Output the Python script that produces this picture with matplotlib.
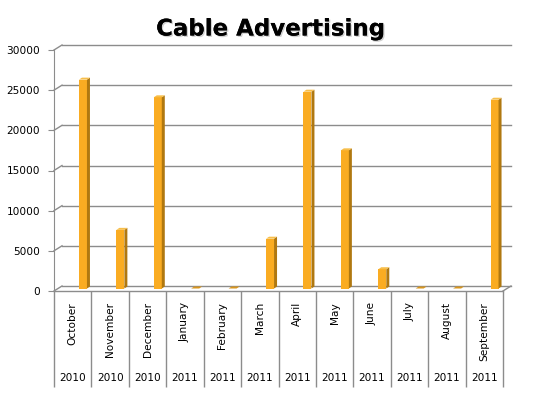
import matplotlib
matplotlib.use("Agg")
import matplotlib.pyplot as plt
import matplotlib.transforms as mtransforms
import matplotlib.patheffects as pe
from matplotlib.patches import Polygon

# ---- data ----
months = ["October", "November", "December", "January", "February", "March",
          "April", "May", "June", "July", "August", "September"]
years = ["2010", "2010", "2010", "2011", "2011", "2011",
         "2011", "2011", "2011", "2011", "2011", "2011"]
spend = [26000, 7300, 23800, 0, 0, 6200, 24500, 17200, 2400, 0, 0, 23500]
yticks = [0, 5000, 10000, 15000, 20000, 25000, 30000]

# ---- figure / axes (front plane of the fake 3D box) ----
W, H = 533, 394
fig = plt.figure(figsize=(W / 100, H / 100), dpi=100)
left_px, right_px, top_px, base_px = 54, 503, 50, 291
ax = fig.add_axes([left_px / W, 1 - base_px / H,
                   (right_px - left_px) / W, (base_px - top_px) / H])
n = len(months)
ymax = 30000
ax.set_xlim(0, n)
ax.set_ylim(0, ymax)
ax.set_facecolor("none")
for s in ["top", "right", "bottom"]:
    ax.spines[s].set_visible(False)
ax.spines["left"].set_color("#8c8c8c")

grid_c = "#8c8c8c"
# pixel -> data conversions
px_x = n / (right_px - left_px)
px_y = ymax / (base_px - top_px)

def shifted(dx, dy):
    return ax.transData + mtransforms.ScaledTranslation(dx / 100, dy / 100, fig.dpi_scale_trans)

# back wall gridlines + left diagonals
back = shifted(8, 5)
for v in yticks:
    ax.plot([0, n], [v, v], color=grid_c, lw=1, transform=back, clip_on=False, zorder=1)
    ax.plot([0, 8 * px_x], [v, v + 5 * px_y], color=grid_c, lw=1, clip_on=False, zorder=1)
# floor front edge and right diagonal
ax.plot([0, n], [0, 0], color=grid_c, lw=1, clip_on=False, zorder=1)
ax.plot([n, n + 8 * px_x], [0, 5 * px_y], color=grid_c, lw=1, clip_on=False, zorder=1)

# bars with side and top faces
front_c, side_c, top_c = "#FAAC22", "#B07810", "#F7BE4A"
bar_w = 8 * px_x
dep_x, dep_y = 3 * px_x, 2 * px_y
mid = shifted(4, 2.5)
for i, v in enumerate(spend):
    x0 = i + 0.56
    x1 = x0 + bar_w
    if v > 0:
        ax.add_patch(Polygon([[x0, 0], [x1, 0], [x1, v], [x0, v]], closed=True,
                             facecolor=front_c, edgecolor="none", transform=mid, zorder=3))
        ax.add_patch(Polygon([[x1, 0], [x1 + dep_x, dep_y], [x1 + dep_x, v + dep_y], [x1, v]],
                             closed=True, facecolor=side_c, edgecolor="none", transform=mid, zorder=3))
    ax.add_patch(Polygon([[x0, v], [x1, v], [x1 + dep_x, v + dep_y], [x0 + dep_x, v + dep_y]],
                         closed=True, facecolor=top_c if v > 0 else "#D9961E",
                         edgecolor="none", transform=mid, zorder=3))

# y axis ticks
ax.set_yticks(yticks)
ax.set_yticklabels([str(t) for t in yticks], fontsize=7.6)
ax.tick_params(axis="y", direction="out", length=4, color=grid_c, pad=6)

# x axis: month labels, year row, separators
ax.set_xticks([i + 0.5 for i in range(n)])
ax.set_xticklabels(months, rotation=90, fontsize=7.6)
ax.tick_params(axis="x", length=0, pad=8)
trans = mtransforms.blended_transform_factory(ax.transData, ax.transAxes)
sep_bottom = -(387 - base_px) / (base_px - top_px)
ax.vlines(range(n + 1), sep_bottom, 0, colors=grid_c, lw=1, transform=trans, clip_on=False)
year_y = -(378 - base_px) / (base_px - top_px)
for i, yr in enumerate(years):
    ax.text(i + 0.5, year_y, yr, ha="center", va="center", fontsize=7.6, transform=trans)

# title with soft shadow
fig.text(270 / W, 1 - 29 / H, "Cable Advertising", ha="center", va="center",
         fontsize=16.5, fontweight="bold",
         path_effects=[pe.withSimplePatchShadow(offset=(1, -1), shadow_rgbFace="#999999", alpha=0.45),
                       pe.Normal()])

fig.savefig("out.png", dpi=100)
